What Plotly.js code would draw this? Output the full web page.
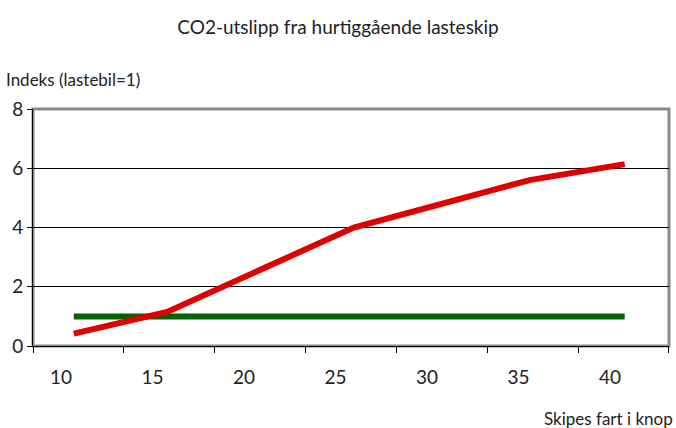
<!DOCTYPE html>
<html>
<head>
<meta charset="utf-8">
<script src="https://cdn.plot.ly/plotly-3.0.1.min.js"></script>
<style>html,body{margin:0;padding:0;background:#fff}#chart{width:676px;height:428px}</style>
</head>
<body>
<div id="chart"></div>
<script>
// Data
const shipSpeed = [10.7, 15.8, 26.0, 35.6, 40.8];
const shipIndex = [0.42, 1.15, 4.0, 5.6, 6.14];
const truckSpeed = [10.7, 40.8];
const truckIndex = [1, 1];
const xTickVals = [10, 15, 20, 25, 30, 35, 40];
const xTickText = ['10', '15', '20', '25', '30', '35', '40'];
const yTickVals = [0, 2, 4, 6, 8];

const FONT = 'Lato, "Open Sans", sans-serif';

const traces = [
  {x: truckSpeed, y: truckIndex, mode: 'lines', line: {color: '#006400', width: 6}, hoverinfo: 'skip'},
  {x: shipSpeed, y: shipIndex, mode: 'lines', line: {color: '#e00000', width: 6}, hoverinfo: 'skip'}
];

const layout = {
  width: 676, height: 428,
  margin: {l: 33, r: 7, t: 109, b: 82},
  paper_bgcolor: '#ffffff', plot_bgcolor: '#ffffff',
  showlegend: false,
  font: {family: FONT, color: '#222222'},
  title: {text: 'CO2-utslipp fra hurtiggående lasteskip', font: {family: FONT, size: 19, color: '#222'}, x: 0.5, xanchor: 'center', y: 0.935, yanchor: 'middle'},
  xaxis: {
    range: [8.47, 43.22], fixedrange: true,
    tickmode: 'array', tickvals: xTickVals, ticktext: xTickText,
    ticks: '', ticklabelstandoff: 14,
    tickfont: {family: FONT, size: 19, color: '#222'},
    showgrid: false, zeroline: false,
    showline: true, linecolor: '#000', linewidth: 1,
    minor: {tick0: 8.47, dtick: 4.964, ticks: 'outside', ticklen: 6, tickcolor: '#000', tickwidth: 1, showgrid: false}
  },
  yaxis: {
    range: [0, 8], fixedrange: true,
    tickmode: 'array', tickvals: yTickVals,
    ticks: 'outside', ticklen: 5, tickcolor: '#000',
    tickfont: {family: FONT, size: 19, color: '#222'},
    showgrid: true, gridcolor: '#000', gridwidth: 1,
    zeroline: false, showline: true, linecolor: '#000', linewidth: 1
  },
  shapes: [
    {type: 'rect', xref: 'paper', yref: 'paper', x0: 0, x1: 1, y0: 0, y1: 1, line: {color: '#8a8a8a', width: 3}, layer: 'below'}
  ],
  annotations: [
    {text: 'Indeks (lastebil=1)', xref: 'paper', yref: 'paper', x: -0.046, y: 1.125, xanchor: 'left', yanchor: 'middle', showarrow: false, font: {family: FONT, size: 17, color: '#222'}},
    {text: 'Skipes fart i knop', xref: 'paper', yref: 'paper', x: 1.01, y: -0.305, xanchor: 'right', yanchor: 'middle', showarrow: false, font: {family: FONT, size: 17, color: '#222'}}
  ]
};

Plotly.newPlot('chart', traces, layout, {staticPlot: true, displayModeBar: false});
</script>
</body>
</html>
